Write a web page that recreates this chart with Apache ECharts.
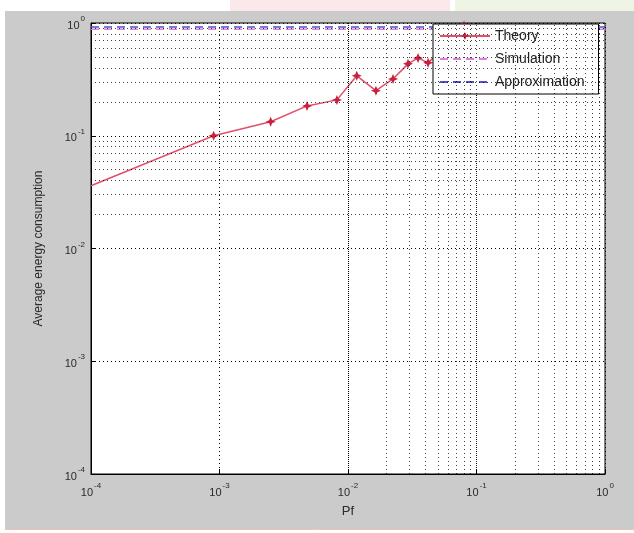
<!DOCTYPE html>
<html>
<head>
<meta charset="utf-8">
<script src="https://cdn.jsdelivr.net/npm/echarts@6/dist/echarts.min.js"></script>
<style>
html,body{margin:0;padding:0;background:#fff;}
#chart{width:634px;height:533px;}
</style>
</head>
<body>
<div id="chart"></div>
<script>
// ---- data ----
const theoryX = [1e-4, 9e-4, 2.5e-3, 4.8e-3, 8.2e-3, 0.0117, 0.0165, 0.0224, 0.0293, 0.0351, 0.042, 0.052, 0.08];
const theoryY = [0.036, 0.10, 0.133, 0.184, 0.208, 0.34, 0.251, 0.319, 0.434, 0.49, 0.443, 0.56, 0.95];
const simX = [1e-4, 1e-3, 1e-2, 1e-1, 1];
const simY = [0.88, 0.88, 0.88, 0.88, 0.88];
const apprX = [1e-4, 1e-3, 1e-2, 1e-1, 1];
const apprY = [0.92, 0.92, 0.92, 0.92, 0.92];
const xTickExps = [-4, -3, -2, -1, 0];
const yTickExps = [-4, -3, -2, -1, 0];

// ---- helpers ----
function pair(xs, ys) { return xs.map((x, i) => [x, ys[i]]); }
function gridValues(exps) {
  const out = [];
  for (let k = 0; k < exps.length - 1; k++) {
    const base = Math.pow(10, exps[k]);
    for (let m = 1; m <= 9; m++) {
      if (k === 0 && m === 1) continue;
      out.push(m * base);
    }
  }
  return out;
}
function powLabel(v) {
  const e = Math.round(Math.log10(v));
  return '{a|10}{b|' + e + '}';
}
const labelRich = {
  a: { fontSize: 11, fontFamily: 'Liberation Sans', color: '#2a2a2a', verticalAlign: 'bottom', lineHeight: 16 },
  b: { fontSize: 8, fontFamily: 'Liberation Sans', color: '#2a2a2a', verticalAlign: 'top', lineHeight: 16, padding: [0, 0, 0, 1] }
};

const theoryData = pair(theoryX, theoryY).map((p, i) => i === 0 ? { value: p, symbol: 'none' } : p);

const xGrid = gridValues(xTickExps).map(v => ({ xAxis: v }));
const yGrid = gridValues(yTickExps).map(v => ({ yAxis: v }));

const chart = echarts.init(document.getElementById('chart'));
chart.setOption({
  backgroundColor: '#ffffff',
  animation: false,
  graphic: {
    elements: [
      { type: 'rect', z: -10, shape: { x: 5, y: 11, width: 629, height: 518 }, style: { fill: '#cbcbcb' } },
      { type: 'rect', z: -10, shape: { x: 230, y: 0, width: 220, height: 11 }, style: { fill: '#fbe8ea' } },
      { type: 'rect', z: -10, shape: { x: 455, y: 0, width: 179, height: 11 }, style: { fill: '#eef5e4' } },
      { type: 'line', z: -10, shape: { x1: 5, y1: 529.5, x2: 634, y2: 529.5 }, style: { stroke: '#f2c2a8', lineWidth: 1 } }
    ]
  },
  grid: {
    left: 91, right: 29, top: 23, bottom: 59,
    show: true, backgroundColor: '#ffffff', borderColor: '#000', borderWidth: 1
  },
  legend: {
    orient: 'vertical',
    left: 433, top: 24,
    backgroundColor: '#ffffff',
    borderColor: '#000', borderWidth: 1,
    padding: [5, 14, 5, 6],
    itemWidth: 50, itemHeight: 10, itemGap: 9,
    textStyle: { fontFamily: 'Liberation Sans', fontSize: 14, color: '#222' },
    data: [
      'Theory',
      { name: 'Simulation', itemStyle: { opacity: 0 } },
      { name: 'Approximation', itemStyle: { opacity: 0 } }
    ]
  },
  xAxis: {
    type: 'log', logBase: 10, min: 1e-4, max: 1,
    name: 'Pf', nameLocation: 'middle', nameGap: 31,
    nameTextStyle: { fontFamily: 'Liberation Sans', fontSize: 13, color: '#2a2a2a' },
    axisLine: { lineStyle: { color: '#000' } },
    axisTick: { inside: true, length: 5, lineStyle: { color: '#000' } },
    axisLabel: { formatter: powLabel, rich: labelRich, margin: 8 },
    splitLine: { show: true, lineStyle: { color: '#000', type: [1, 3], width: 1 } }
  },
  yAxis: {
    type: 'log', logBase: 10, min: 1e-4, max: 1,
    name: 'Average energy consumption', nameLocation: 'middle', nameGap: 46,
    nameTextStyle: { fontFamily: 'Liberation Sans', fontSize: 12, color: '#2a2a2a' },
    axisLine: { lineStyle: { color: '#000' } },
    axisTick: { inside: true, length: 5, lineStyle: { color: '#000' } },
    axisLabel: { formatter: powLabel, rich: labelRich, margin: 6 },
    splitLine: { show: true, lineStyle: { color: '#000', type: [1, 3], width: 1 } }
  },
  series: [
    {
      name: 'gridlines', type: 'line', data: [], silent: true,
      markLine: {
        silent: true, symbol: 'none', label: { show: false },
        lineStyle: { color: '#000', type: [1, 3], width: 1, opacity: 0.75 },
        data: xGrid.concat(yGrid)
      }
    },
    {
      name: 'Theory', type: 'line', data: theoryData,
      color: '#e0506a',
      lineStyle: { color: '#e0506a', width: 1.5 },
      symbol: 'path://M0,-10L3,-3L10,0L3,3L0,10L-3,3L-10,0L-3,-3Z',
      symbolSize: 10,
      itemStyle: { color: '#c8203e' },
      z: 3
    },
    {
      name: 'Simulation', type: 'line', data: pair(simX, simY),
      color: '#e080e0', symbol: 'circle', showSymbol: false,
      lineStyle: { color: '#e080e0', width: 1.5, type: [8, 5] }, z: 3
    },
    {
      name: 'Approximation', type: 'line', data: pair(apprX, apprY),
      color: '#5050d0', symbol: 'circle', showSymbol: false,
      lineStyle: { color: '#5050d0', width: 1.5, type: [8, 5] }, z: 3
    }
  ]
});
</script>
</body>
</html>
